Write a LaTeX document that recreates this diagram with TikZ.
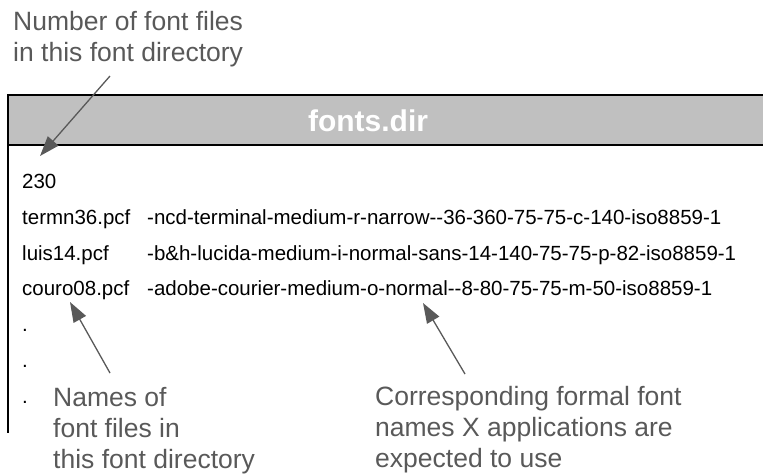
\documentclass[tikz,border=0pt]{standalone}
\usepackage{fontspec}
\setmainfont{Liberation Sans}
\usetikzlibrary{arrows.meta}
\definecolor{notegray}{HTML}{595959}
\definecolor{bandgray}{HTML}{C0C0C0}
\tikzset{
  note/.style={anchor=north west, inner sep=0pt, text=notegray, align=left,
    font=\fontsize{26.5}{31}\selectfont},
  entry/.style={anchor=base west, inner sep=0pt, font=\fontsize{20.5}{24}\selectfont},
  pointer/.style={draw=notegray, line width=1.3pt,
    -{Triangle[length=20pt,width=14pt]}},
}
\begin{document}
\begin{tikzpicture}[x=1pt,y=-1pt]
\useasboundingbox (0,0) rectangle (763,475);

% title band of the file box
\fill[bandgray] (8,95) rectangle (775,145);
\draw[line width=2pt] (775,95) -- (8,95) -- (8,433);
\draw[line width=1.5pt] (8,145) -- (775,145);
\node[font=\bfseries\fontsize{30}{34}\selectfont, text=white, anchor=base]
  (title) at (368,131) {fonts.dir};

% file contents
\node[entry] (count) at (22,188) {230};
\node[entry] (f1) at (22,224) {termn36.pcf};
\node[entry] (n1) at (147,224) {-ncd-terminal-medium-r-narrow-{}-36-360-75-75-c-140-iso8859-1};
\node[entry] (f2) at (22,260) {luis14.pcf};
\node[entry] (n2) at (147,260) {-b\&h-lucida-medium-i-normal-sans-14-140-75-75-p-82-iso8859-1};
\node[entry] (f3) at (22,295) {couro08.pcf};
\node[entry] (n3) at (147,295) {-adobe-courier-medium-o-normal-{}-8-80-75-75-m-50-iso8859-1};
\node[entry] (d1) at (22,331) {.};
\node[entry] (d2) at (22,367) {.};
\node[entry] (d3) at (22,403) {.};

% annotations
\node[note] (topnote) at (13,11.5) {Number of font files\\in this font directory};
\node[note] (leftnote) at (53,387.5) {Names of\\font files in\\this font directory};
\node[note] (rightnote) at (375,386.5) {Corresponding formal font\\names X applications are\\expected to use};

% pointers
\coordinate (t1) at (110,76);  \coordinate (h1) at (40,156);
\coordinate (t2) at (110,373); \coordinate (h2) at (70,302);
\coordinate (t3) at (465,374); \coordinate (h3) at (423,303);
\draw[pointer] (t1) -- (h1);
\draw[pointer] (t2) -- (h2);
\draw[pointer] (t3) -- (h3);
\end{tikzpicture}
\end{document}
